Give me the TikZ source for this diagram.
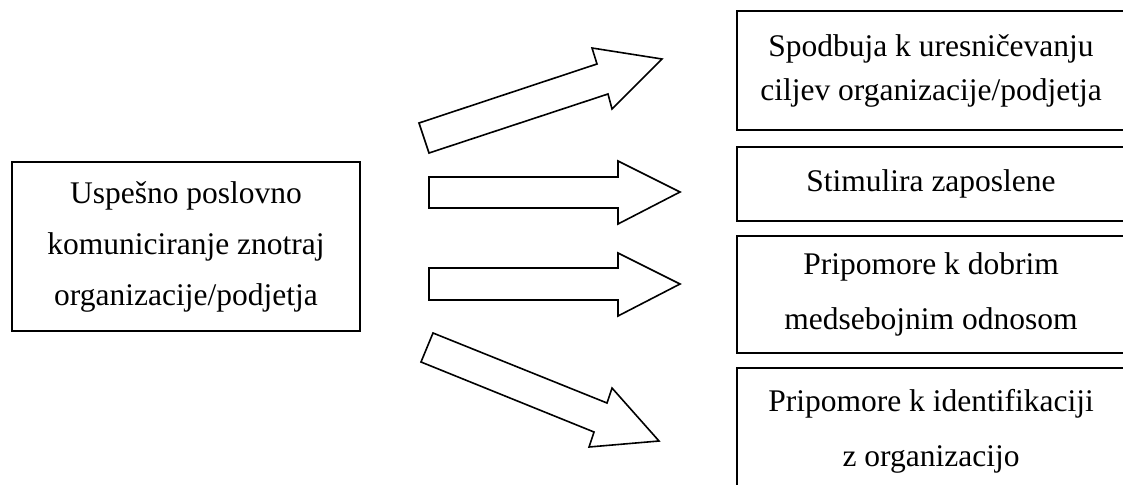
\documentclass[tikz,border=0pt]{standalone}
\usepackage{fontspec}
\setmainfont{Liberation Serif}
\begin{document}
\begin{tikzpicture}[x=1pt,y=-1pt,
  box/.style={draw=black,line width=2pt,rectangle,inner sep=0pt,align=center},
  blockarrow/.style={draw=black,line width=1.6pt,line join=miter,fill=white},
  txt/.style={font=\fontsize{31.5}{#1}\selectfont}
]
\useasboundingbox (0,0) rectangle (1123,484);
\clip (0,0) rectangle (1123,484);
% left box
\node[box,txt=51,minimum width=348pt,minimum height=169pt] (src) at (186,246.5)
  {Uspešno poslovno\\komuniciranje znotraj\\organizacije/podjetja};
% right boxes
\node[box,txt=44,minimum width=388pt,minimum height=119pt] (b1) at (931,70.5)
  {Spodbuja k uresničevanju\\ciljev organizacije/podjetja};
\node[box,txt=44,minimum width=388pt,minimum height=74pt] (b2) at (931,184)
  {Stimulira zaposlene};
\node[box,txt=55,minimum width=388pt,minimum height=117pt] (b3) at (931,294.5)
  {Pripomore k dobrim\\medsebojnim odnosom};
\node[box,txt=55,minimum width=388pt,minimum height=126pt] (b4) at (931,431)
  {Pripomore k identifikaciji\\z organizacijo};
% block arrows
\draw[blockarrow] (429,153) -- (419,123) -- (597,64) -- (592,48) -- (662,59)
  -- (612,109) -- (608,94) -- cycle;
\draw[blockarrow] (429,177) -- (618,177) -- (618,161) -- (680,192) -- (618,224)
  -- (618,208) -- (429,208) -- cycle;
\draw[blockarrow] (429,268) -- (618,268) -- (618,253) -- (680,284) -- (618,316)
  -- (618,300) -- (429,300) -- cycle;
\draw[blockarrow] (433,333) -- (607,403) -- (612,388) -- (659,441) -- (589,447)
  -- (594,432) -- (421,362) -- cycle;
\end{tikzpicture}
\end{document}
